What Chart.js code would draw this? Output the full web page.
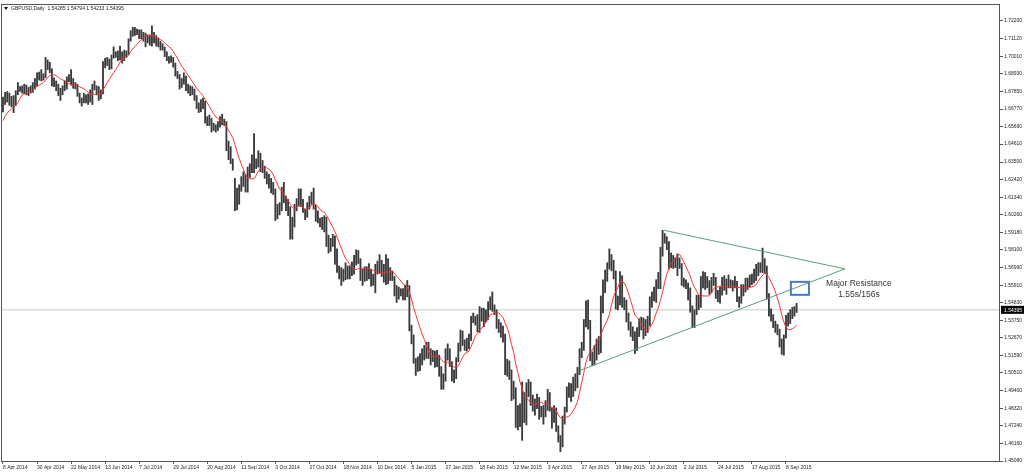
<!DOCTYPE html>
<html>
<head>
<meta charset="utf-8">
<script src="https://cdn.jsdelivr.net/npm/chart.js@4.4.1/dist/chart.umd.min.js"></script>
<style>
  html, body { margin: 0; padding: 0; background: #fff; }
  canvas { display: block; }
</style>
</head>
<body>
<canvas id="chart" width="1024" height="472"></canvas>
<script>
// GBPUSD daily bars, 8 Apr 2014 .. 15 Sep 2015 (one entry per trading day)
const symbolTitle = "GBPUSD,Daily  1.54285 1.54794 1.54233 1.54395";
const tickLabels = ["8 Apr 2014", "30 Apr 2014", "22 May 2014", "13 Jun 2014", "7 Jul 2014", "29 Jul 2014",
  "20 Aug 2014", "11 Sep 2014", "3 Oct 2014", "27 Oct 2014", "18 Nov 2014", "10 Dec 2014", "5 Jan 2015",
  "27 Jan 2015", "18 Feb 2015", "12 Mar 2015", "3 Apr 2015", "27 Apr 2015", "19 May 2015", "10 Jun 2015",
  "2 Jul 2015", "24 Jul 2015", "17 Aug 2015", "8 Sep 2015"];
const tickEvery = 16;
const yTicks = [1.72200, 1.71120, 1.70010, 1.68930, 1.67850, 1.66770, 1.65690, 1.64610, 1.63500, 1.62420,
  1.61340, 1.60260, 1.59180, 1.58100, 1.56990, 1.55910, 1.54830, 1.53750, 1.52670, 1.51590, 1.50510,
  1.49400, 1.48320, 1.47240, 1.46160, 1.45080];

// closes before the first visible bar (feed the moving average)
const prevCloses = [1.6500, 1.6540, 1.6600, 1.6630, 1.6650, 1.6665, 1.6610, 1.6565, 1.6560];
const maPeriod = 10;

const highs = [
  1.6750, 1.6780, 1.6785, 1.6775, 1.6755, 1.6760, 1.6790, 1.6840, 1.6815, 1.6820,
  1.6830, 1.6825, 1.6810, 1.6820, 1.6840, 1.6865, 1.6900, 1.6905, 1.6920, 1.6895,
  1.6995, 1.6980, 1.6965, 1.6925, 1.6870, 1.6850, 1.6830, 1.6805, 1.6820, 1.6850,
  1.6875, 1.6890, 1.6920, 1.6865, 1.6840, 1.6830, 1.6775, 1.6745, 1.6775, 1.6765,
  1.6770, 1.6795, 1.6830, 1.6850, 1.6820, 1.6815, 1.6795, 1.6970, 1.6990, 1.6995,
  1.6985, 1.7010, 1.7060, 1.7030, 1.7035, 1.7065, 1.7030, 1.7040, 1.7035, 1.7110,
  1.7160, 1.7180, 1.7180, 1.7170, 1.7165, 1.7165, 1.7150, 1.7145, 1.7130, 1.7130,
  1.7190, 1.7150, 1.7130, 1.7115, 1.7095, 1.7080, 1.7060, 1.7030, 1.7000, 1.7005,
  1.6995, 1.6960, 1.6910, 1.6890, 1.6865, 1.6900, 1.6880, 1.6830, 1.6820, 1.6815,
  1.6800, 1.6760, 1.6715, 1.6735, 1.6745, 1.6725, 1.6630, 1.6640, 1.6620, 1.6590,
  1.6580, 1.6600, 1.6630, 1.6645, 1.6615, 1.6600, 1.6480, 1.6445, 1.6370, 1.6250,
  1.6190, 1.6210, 1.6260, 1.6290, 1.6275, 1.6320, 1.6340, 1.6395, 1.6525, 1.6370,
  1.6420, 1.6405, 1.6360, 1.6325, 1.6290, 1.6275, 1.6250, 1.6225, 1.6185, 1.6090,
  1.6100, 1.6195, 1.6225, 1.6140, 1.6120, 1.6075, 1.6010, 1.6090, 1.6125, 1.6185,
  1.6185, 1.6120, 1.6060, 1.6100, 1.6140, 1.6165, 1.6190, 1.6085, 1.6050, 1.6005,
  1.6010, 1.6020, 1.6010, 1.5900, 1.5880, 1.5905, 1.5895, 1.5815, 1.5710, 1.5700,
  1.5690, 1.5730, 1.5710, 1.5710, 1.5735, 1.5775, 1.5810, 1.5805, 1.5755, 1.5690,
  1.5705, 1.5705, 1.5725, 1.5690, 1.5660, 1.5720, 1.5740, 1.5780, 1.5745, 1.5720,
  1.5780, 1.5755, 1.5700, 1.5680, 1.5645, 1.5590, 1.5580, 1.5570, 1.5570, 1.5590,
  1.5620, 1.5590, 1.5345, 1.5285, 1.5140, 1.5150, 1.5170, 1.5200, 1.5220, 1.5240,
  1.5240, 1.5200, 1.5190, 1.5185, 1.5190, 1.5160, 1.5090, 1.5045, 1.5200, 1.5230,
  1.5200, 1.5120, 1.5070, 1.5145, 1.5235, 1.5315, 1.5310, 1.5255, 1.5265, 1.5290,
  1.5400, 1.5420, 1.5400, 1.5410, 1.5460, 1.5450, 1.5450, 1.5440, 1.5490, 1.5520,
  1.5550, 1.5470, 1.5440, 1.5380, 1.5360, 1.5340, 1.5290, 1.5135, 1.5125, 1.5070,
  1.5000, 1.4960, 1.4850, 1.4860, 1.4995, 1.4930, 1.4990, 1.5010, 1.4995, 1.4915,
  1.4890, 1.4920, 1.4900, 1.4845, 1.4850, 1.4880, 1.4950, 1.4930, 1.4835, 1.4850,
  1.4835, 1.4725, 1.4665, 1.4785, 1.4840, 1.4965, 1.4990, 1.4985, 1.5025, 1.5045,
  1.5085, 1.5200, 1.5240, 1.5380, 1.5495, 1.5500, 1.5375, 1.5180, 1.5220, 1.5260,
  1.5275, 1.5525, 1.5625, 1.5685, 1.5730, 1.5815, 1.5780, 1.5745, 1.5680, 1.5525,
  1.5675, 1.5650, 1.5515, 1.5500, 1.5420, 1.5365, 1.5335, 1.5305, 1.5330, 1.5385,
  1.5395, 1.5390, 1.5380, 1.5400, 1.5520, 1.5550, 1.5580, 1.5625, 1.5670, 1.5825,
  1.5930, 1.5910, 1.5890, 1.5860, 1.5790, 1.5775, 1.5760, 1.5785, 1.5760, 1.5725,
  1.5635, 1.5625, 1.5605, 1.5575, 1.5465, 1.5440, 1.5530, 1.5530, 1.5645, 1.5675,
  1.5670, 1.5645, 1.5620, 1.5640, 1.5665, 1.5640, 1.5560, 1.5580, 1.5640, 1.5650,
  1.5630, 1.5655, 1.5625, 1.5620, 1.5645, 1.5615, 1.5520, 1.5595, 1.5595, 1.5635,
  1.5635, 1.5655, 1.5660, 1.5690, 1.5720, 1.5730, 1.5730, 1.5820, 1.5755, 1.5710,
  1.5540, 1.5445, 1.5410, 1.5370, 1.5350, 1.5320, 1.5260, 1.5285, 1.5405, 1.5420,
  1.5440, 1.5455, 1.5460, 1.54794
];
const lows = [
  1.6660, 1.6705, 1.6720, 1.6700, 1.6690, 1.6655, 1.6700, 1.6765, 1.6785, 1.6775,
  1.6770, 1.6765, 1.6760, 1.6775, 1.6780, 1.6800, 1.6820, 1.6855, 1.6850, 1.6855,
  1.6870, 1.6920, 1.6900, 1.6820, 1.6815, 1.6790, 1.6760, 1.6730, 1.6765, 1.6790,
  1.6800, 1.6845, 1.6825, 1.6805, 1.6800, 1.6755, 1.6715, 1.6695, 1.6715, 1.6715,
  1.6705, 1.6720, 1.6705, 1.6795, 1.6765, 1.6730, 1.6740, 1.6770, 1.6930, 1.6945,
  1.6920, 1.6925, 1.6990, 1.6995, 1.6975, 1.6980, 1.6960, 1.6975, 1.6995, 1.7010,
  1.7095, 1.7125, 1.7130, 1.7135, 1.7110, 1.7110, 1.7095, 1.7060, 1.7085, 1.7070,
  1.7065, 1.7085, 1.7065, 1.7060, 1.7040, 1.7040, 1.7000, 1.6975, 1.6960, 1.6965,
  1.6935, 1.6880, 1.6865, 1.6800, 1.6810, 1.6830, 1.6790, 1.6775, 1.6760, 1.6765,
  1.6730, 1.6680, 1.6655, 1.6660, 1.6680, 1.6590, 1.6575, 1.6575, 1.6535, 1.6545,
  1.6535, 1.6545, 1.6565, 1.6580, 1.6575, 1.6420, 1.6365, 1.6340, 1.6300, 1.6050,
  1.6055, 1.6090, 1.6170, 1.6200, 1.6165, 1.6165, 1.6255, 1.6285, 1.6285, 1.6310,
  1.6320, 1.6290, 1.6285, 1.6250, 1.6215, 1.6190, 1.6160, 1.6150, 1.5990, 1.6000,
  1.6025, 1.6050, 1.6100, 1.6050, 1.6020, 1.5875, 1.5875, 1.5950, 1.6050, 1.6080,
  1.6075, 1.6040, 1.5995, 1.6010, 1.6060, 1.6090, 1.6060, 1.5985, 1.5975, 1.5950,
  1.5935, 1.5920, 1.5830, 1.5790, 1.5800, 1.5830, 1.5720, 1.5670, 1.5630, 1.5590,
  1.5615, 1.5625, 1.5630, 1.5630, 1.5650, 1.5660, 1.5715, 1.5725, 1.5620, 1.5590,
  1.5615, 1.5620, 1.5630, 1.5585, 1.5590, 1.5545, 1.5660, 1.5665, 1.5645, 1.5610,
  1.5595, 1.5600, 1.5620, 1.5620, 1.5525, 1.5485, 1.5505, 1.5525, 1.5500, 1.5500,
  1.5520, 1.5310, 1.5230, 1.5110, 1.5035, 1.5060, 1.5065, 1.5100, 1.5130, 1.5140,
  1.5140, 1.5100, 1.5120, 1.5085, 1.5090, 1.5030, 1.4950, 1.4950, 1.5000, 1.5130,
  1.5090, 1.5000, 1.4990, 1.5015, 1.5120, 1.5185, 1.5220, 1.5190, 1.5185, 1.5200,
  1.5250, 1.5360, 1.5345, 1.5305, 1.5300, 1.5370, 1.5335, 1.5365, 1.5380, 1.5440,
  1.5430, 1.5410, 1.5325, 1.5300, 1.5270, 1.5240, 1.5040, 1.5030, 1.5010, 1.4880,
  1.4890, 1.4715, 1.4700, 1.4720, 1.4635, 1.4745, 1.4730, 1.4905, 1.4850, 1.4815,
  1.4790, 1.4830, 1.4765, 1.4780, 1.4735, 1.4780, 1.4820, 1.4815, 1.4710, 1.4745,
  1.4690, 1.4625, 1.4565, 1.4595, 1.4735, 1.4810, 1.4900, 1.4875, 1.4905, 1.4940,
  1.4960, 1.5040, 1.5145, 1.5190, 1.5335, 1.5320, 1.5125, 1.5095, 1.5100, 1.5130,
  1.5165, 1.5175, 1.5420, 1.5545, 1.5615, 1.5690, 1.5680, 1.5630, 1.5445, 1.5440,
  1.5470, 1.5455, 1.5440, 1.5365, 1.5315, 1.5275, 1.5250, 1.5170, 1.5190, 1.5275,
  1.5315, 1.5260, 1.5280, 1.5300, 1.5340, 1.5455, 1.5495, 1.5485, 1.5570, 1.5570,
  1.5770, 1.5850, 1.5810, 1.5690, 1.5700, 1.5695, 1.5700, 1.5650, 1.5695, 1.5590,
  1.5580, 1.5570, 1.5500, 1.5425, 1.5330, 1.5330, 1.5410, 1.5440, 1.5455, 1.5575,
  1.5565, 1.5575, 1.5535, 1.5545, 1.5590, 1.5510, 1.5490, 1.5480, 1.5530, 1.5560,
  1.5535, 1.5575, 1.5575, 1.5555, 1.5575, 1.5490, 1.5455, 1.5480, 1.5525, 1.5550,
  1.5565, 1.5580, 1.5595, 1.5605, 1.5620, 1.5650, 1.5670, 1.5670, 1.5665, 1.5505,
  1.5400, 1.5370, 1.5330, 1.5300, 1.5285, 1.5210, 1.5165, 1.5160, 1.5265, 1.5340,
  1.5355, 1.5385, 1.5400, 1.54233
];
const closes = [
  1.6735, 1.6765, 1.6750, 1.6745, 1.6730, 1.6745, 1.6775, 1.6800, 1.6800, 1.6790,
  1.6820, 1.6785, 1.6795, 1.6805, 1.6825, 1.6855, 1.6880, 1.6885, 1.6875, 1.6880,
  1.6960, 1.6955, 1.6920, 1.6830, 1.6840, 1.6805, 1.6775, 1.6790, 1.6805, 1.6840,
  1.6860, 1.6875, 1.6835, 1.6830, 1.6820, 1.6765, 1.6720, 1.6730, 1.6755, 1.6730,
  1.6745, 1.6785, 1.6820, 1.6810, 1.6790, 1.6770, 1.6780, 1.6960, 1.6975, 1.6975,
  1.6935, 1.6995, 1.7015, 1.7010, 1.6995, 1.7015, 1.6990, 1.7015, 1.7020, 1.7105,
  1.7150, 1.7165, 1.7155, 1.7150, 1.7150, 1.7125, 1.7135, 1.7110, 1.7105, 1.7085,
  1.7125, 1.7110, 1.7100, 1.7085, 1.7065, 1.7050, 1.7015, 1.6990, 1.6975, 1.6990,
  1.6950, 1.6895, 1.6880, 1.6825, 1.6845, 1.6870, 1.6815, 1.6800, 1.6795, 1.6785,
  1.6745, 1.6700, 1.6690, 1.6700, 1.6720, 1.6605, 1.6600, 1.6595, 1.6560, 1.6565,
  1.6560, 1.6585, 1.6600, 1.6600, 1.6590, 1.6440, 1.6390, 1.6355, 1.6320, 1.6140,
  1.6115, 1.6190, 1.6240, 1.6270, 1.6215, 1.6300, 1.6310, 1.6380, 1.6315, 1.6350,
  1.6385, 1.6305, 1.6305, 1.6260, 1.6240, 1.6210, 1.6185, 1.6170, 1.6005, 1.6080,
  1.6075, 1.6180, 1.6120, 1.6085, 1.6040, 1.5960, 1.5990, 1.6070, 1.6115, 1.6170,
  1.6095, 1.6050, 1.6020, 1.6085, 1.6115, 1.6145, 1.6075, 1.6010, 1.5995, 1.5975,
  1.5995, 1.5990, 1.5840, 1.5860, 1.5860, 1.5885, 1.5805, 1.5680, 1.5645, 1.5640,
  1.5650, 1.5700, 1.5665, 1.5670, 1.5700, 1.5730, 1.5800, 1.5740, 1.5635, 1.5675,
  1.5640, 1.5690, 1.5650, 1.5620, 1.5630, 1.5700, 1.5700, 1.5700, 1.5710, 1.5630,
  1.5700, 1.5680, 1.5665, 1.5640, 1.5530, 1.5510, 1.5565, 1.5545, 1.5530, 1.5565,
  1.5580, 1.5330, 1.5260, 1.5125, 1.5090, 1.5105, 1.5160, 1.5150, 1.5210, 1.5185,
  1.5185, 1.5145, 1.5170, 1.5120, 1.5140, 1.5060, 1.4975, 1.5010, 1.5170, 1.5190,
  1.5100, 1.5060, 1.5030, 1.5135, 1.5220, 1.5305, 1.5245, 1.5230, 1.5245, 1.5270,
  1.5390, 1.5375, 1.5355, 1.5320, 1.5440, 1.5390, 1.5410, 1.5435, 1.5460, 1.5515,
  1.5440, 1.5430, 1.5340, 1.5350, 1.5285, 1.5270, 1.5060, 1.5120, 1.5050, 1.4910,
  1.4955, 1.4730, 1.4810, 1.4750, 1.4930, 1.4760, 1.4960, 1.4980, 1.4880, 1.4840,
  1.4870, 1.4885, 1.4790, 1.4830, 1.4790, 1.4870, 1.4915, 1.4820, 1.4755, 1.4805,
  1.4715, 1.4630, 1.4620, 1.4770, 1.4830, 1.4930, 1.4970, 1.4950, 1.4965, 1.5030,
  1.5045, 1.5190, 1.5235, 1.5370, 1.5480, 1.5355, 1.5150, 1.5115, 1.5180, 1.5240,
  1.5270, 1.5455, 1.5605, 1.5645, 1.5720, 1.5735, 1.5720, 1.5665, 1.5460, 1.5495,
  1.5635, 1.5475, 1.5495, 1.5395, 1.5330, 1.5305, 1.5285, 1.5205, 1.5310, 1.5340,
  1.5350, 1.5290, 1.5350, 1.5355, 1.5500, 1.5525, 1.5570, 1.5610, 1.5620, 1.5800,
  1.5880, 1.5885, 1.5850, 1.5720, 1.5760, 1.5725, 1.5735, 1.5745, 1.5710, 1.5600,
  1.5610, 1.5605, 1.5565, 1.5440, 1.5340, 1.5430, 1.5510, 1.5490, 1.5630, 1.5640,
  1.5600, 1.5600, 1.5580, 1.5620, 1.5600, 1.5540, 1.5505, 1.5550, 1.5620, 1.5615,
  1.5590, 1.5610, 1.5595, 1.5600, 1.5600, 1.5500, 1.5490, 1.5580, 1.5560, 1.5610,
  1.5620, 1.5640, 1.5620, 1.5645, 1.5690, 1.5700, 1.5705, 1.5730, 1.5710, 1.5520,
  1.5430, 1.5380, 1.5335, 1.5315, 1.5290, 1.5230, 1.5170, 1.5275, 1.5385, 1.5375,
  1.5420, 1.5435, 1.5420, 1.54395
];

// drawn objects (bar index, price)
const upperLineX = [310.6, 395.7];
const upperLineY = [1.5930, 1.5692];
const lowerLineX = [271.2, 395.7];
const lowerLineY = [1.5066, 1.5692];
const boxX = [370.3, 378.8];
const boxY = [1.5612, 1.5532];
const noteLines = ["Major Resistance", "1.55s/156s"];
const noteX = 402.3;
const noteY = [1.5603, 1.5535];

const lastClose = closes[closes.length - 1];
const xMin = -0.94, xMax = 468.6;
const yMin = 1.4508, yMax = 1.73243;
const axisFont = { family: "Liberation Sans", size: 5 };

const allCloses = prevCloses.concat(closes);
const ma = closes.map((c, i) => {
  let s = 0;
  for (let k = 0; k < maPeriod; k++) s += allCloses[i + prevCloses.length - k];
  return s / maPeriod;
});

const frame = {
  id: "frame",
  afterDraw(chart) {
    const { ctx, chartArea: a, scales: { x, y } } = chart;
    ctx.save();
    ctx.strokeStyle = "#555";
    ctx.lineWidth = 1;
    ctx.strokeRect(Math.round(a.left) + 0.5, Math.round(a.top) + 0.5,
      Math.round(a.right - a.left) - 1, Math.round(a.bottom - a.top));

    // title
    ctx.fillStyle = "#111";
    ctx.beginPath();
    ctx.moveTo(a.left + 3, a.top + 3);
    ctx.lineTo(a.left + 7, a.top + 3);
    ctx.lineTo(a.left + 5, a.top + 6);
    ctx.closePath();
    ctx.fill();
    ctx.font = "5px 'Liberation Sans'";
    ctx.textBaseline = "middle";
    ctx.fillStyle = "#222";
    ctx.fillText(symbolTitle, a.left + 10, a.top + 4.5);

    // current price marker on the axis
    const py = y.getPixelForValue(lastClose);
    ctx.fillStyle = "#000";
    ctx.fillRect(a.right + 1, py - 4, 23, 8);
    ctx.fillStyle = "#fff";
    ctx.textAlign = "left";
    ctx.fillText(lastClose.toFixed(5), a.right + 4, py + 0.5);

    // resistance box and note
    const bx0 = x.getPixelForValue(boxX[0]), bx1 = x.getPixelForValue(boxX[1]);
    const by0 = y.getPixelForValue(boxY[0]), by1 = y.getPixelForValue(boxY[1]);
    ctx.strokeStyle = "#4a78c2";
    ctx.lineWidth = 2;
    ctx.strokeRect(bx0, by0, bx1 - bx0, by1 - by0);
    ctx.font = "8.5px 'Liberation Sans'";
    ctx.fillStyle = "#333";
    ctx.textAlign = "center";
    noteLines.forEach((t, k) => ctx.fillText(t, x.getPixelForValue(noteX), y.getPixelForValue(noteY[k])));
    ctx.restore();
  }
};

new Chart(document.getElementById("chart"), {
  data: {
    datasets: [
      {
        type: "line",
        data: [{ x: xMin, y: lastClose }, { x: xMax, y: lastClose }],
        borderColor: "#c8c8c8",
        borderWidth: 1,
        pointRadius: 0,
        order: 5
      },
      {
        type: "bar",
        data: highs.map((h, i) => ({ x: i, y: [lows[i], h] })),
        backgroundColor: "#3a3a3a",
        borderWidth: 0,
        barThickness: 1.2,
        order: 3
      },
      {
        type: "line",
        data: ma.map((v, i) => ({ x: i, y: v })),
        borderColor: "#ff3030",
        borderWidth: 1,
        pointRadius: 0,
        order: 2
      },
      {
        type: "line",
        data: upperLineX.map((v, k) => ({ x: v, y: upperLineY[k] })),
        borderColor: "#5a9e78",
        borderWidth: 1,
        pointRadius: 0,
        order: 1
      },
      {
        type: "line",
        data: lowerLineX.map((v, k) => ({ x: v, y: lowerLineY[k] })),
        borderColor: "#5a9e78",
        borderWidth: 1,
        pointRadius: 0,
        order: 1
      }
    ]
  },
  options: {
    responsive: false,
    animation: false,
    devicePixelRatio: 1,
    layout: { padding: { left: 1, top: 2, right: 0, bottom: 0 } },
    plugins: { legend: { display: false }, tooltip: { enabled: false } },
    scales: {
      x: {
        type: "linear",
        position: "bottom",
        offset: false,
        min: xMin,
        max: xMax,
        grid: { offset: false, drawOnChartArea: false, drawTicks: true, tickLength: 3, color: "#555" },
        border: { display: false },
        ticks: {
          align: "start",
          maxRotation: 0,
          autoSkip: false,
          padding: 1,
          font: axisFont,
          color: "#222",
          callback: (v) => tickLabels[v / tickEvery] ?? ""
        },
        afterBuildTicks: (s) => { s.ticks = tickLabels.map((t, k) => ({ value: k * tickEvery })); },
        afterFit: (s) => { s.height = 11; }
      },
      y: {
        type: "linear",
        position: "right",
        min: yMin,
        max: yMax,
        grid: { drawOnChartArea: false, drawTicks: true, tickLength: 3, color: "#555" },
        border: { display: false },
        ticks: {
          padding: 1,
          font: axisFont,
          color: "#222",
          callback: (v) => v.toFixed(5)
        },
        afterBuildTicks: (s) => { s.ticks = yTicks.map((v) => ({ value: v })); },
        afterFit: (s) => { s.width = 24; }
      }
    }
  },
  plugins: [frame]
});
</script>
</body>
</html>
